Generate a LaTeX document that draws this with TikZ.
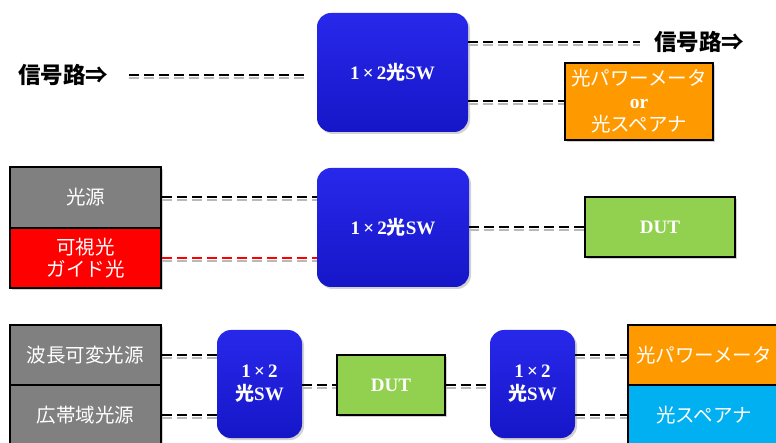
\documentclass[tikz,border=0pt]{standalone}
\usepackage{fontspec}
\setmainfont{Liberation Serif}
\newfontfamily\jp{Noto Sans CJK JP}
\usetikzlibrary{positioning,shadows,calc}
\definecolor{swtop}{RGB}{40,40,235}
\definecolor{swbot}{RGB}{22,22,200}
\definecolor{pmorange}{RGB}{255,153,0}
\definecolor{dutgreen}{RGB}{146,208,80}
\definecolor{srcgray}{RGB}{128,128,128}
\definecolor{osacyan}{RGB}{0,176,240}
\tikzstyle{sw}=[%
      rectangle, rounded corners=14pt, draw=none, top color=swtop, bottom color=swbot,
      drop shadow={shadow xshift=2pt, shadow yshift=-2pt, fill=gray!70},
      text=white, font=\bfseries\fontsize{19}{23}\selectfont, align=center, inner sep=0pt
]
\tikzstyle{box}=[%
      rectangle, draw=black, line width=1.5pt,
      drop shadow={shadow xshift=2pt, shadow yshift=-2pt, fill=gray!70},
      text=white, font=\jp\fontsize{19.5}{24}\selectfont, align=center, inner sep=0pt
]
\tikzstyle{lbl}=[%
      font=\jp\bfseries\fontsize{22.5}{26}\selectfont, inner sep=0pt
]
\tikzstyle{sig}=[%
      line width=2pt, dash pattern=on 10pt off 5pt,
      preaction={draw=gray!55, line width=2pt, dash pattern=on 10pt off 5pt, transform canvas={yshift=-3pt}}
]
\begin{document}
\begin{tikzpicture}[x=1pt, y=-1pt]
    \useasboundingbox (0,0) rectangle (776,443);
    \clip (0,0) rectangle (776,443);

    % row 1
    \node[lbl, anchor=west]  (in1)  at (18,75)      {信号路⇒};
    \node[sw, minimum width=151pt, minimum height=119pt] (sw1) at (392.5,72.5)
          {1\,×\,2{\jp 光}SW};
    \node[lbl, anchor=west]  (out1) at (654,42)     {信号路⇒};
    \node[box, fill=pmorange, minimum width=148pt, minimum height=77pt] (pm1) at (639,101.5)
          {光パワーメータ\\[-1pt]{\rmfamily\bfseries or}\\[-1pt]光スペアナ};

    \draw[sig] ([xshift=21pt]in1.east) -- ([xshift=-12pt]sw1.west |- in1.east);
    \draw[sig] (sw1.east |- out1.west) -- ([xshift=-14pt]out1.west);
    \draw[sig] (sw1.east |- pm1.west) -- (pm1.west);

    % row 2
    \node[box, fill=srcgray, minimum width=151pt, minimum height=61pt] (src) at (85.5,197.5) {光源};
    \node[box, fill=red, minimum width=151pt, minimum height=60pt] (vis) at (85.5,258)
          {可視光\\[-2pt]ガイド光};
    \node[sw, minimum width=152pt, minimum height=119pt] (sw2) at (393,227.5)
          {1\,×\,2{\jp 光}SW};
    \node[box, fill=dutgreen, minimum width=150pt, minimum height=60pt,
          font=\rmfamily\bfseries\fontsize{19}{23}\selectfont] (dut2) at (660,227) {DUT};

    \draw[sig] (src.east) -- (src.east -| sw2.west);
    \draw[sig, red] (vis.east) -- (vis.east -| sw2.west);
    \draw[sig] (sw2.east |- dut2.west) -- (dut2.west);

    % row 3
    \node[box, fill=srcgray, minimum width=151pt, minimum height=60pt] (tun) at (85.5,355) {波長可変光源};
    \node[box, fill=srcgray, minimum width=151pt, minimum height=60pt] (bb)  at (85.5,415) {広帯域光源};
    \node[sw, minimum width=85pt, minimum height=108pt] (sw3) at (259.5,384) {1\,×\,2\\{\jp 光}SW};
    \node[box, fill=dutgreen, minimum width=108pt, minimum height=60pt,
          font=\rmfamily\bfseries\fontsize{19}{23}\selectfont] (dut3) at (391,385) {DUT};
    \node[sw, minimum width=85pt, minimum height=108pt] (sw4) at (532.5,384) {1\,×\,2\\{\jp 光}SW};
    \node[box, fill=pmorange, minimum width=152pt, minimum height=60pt] (pm3)  at (704,355) {光パワーメータ};
    \node[box, fill=osacyan, minimum width=152pt, minimum height=60pt]  (osa3) at (704,415) {光スペアナ};

    \draw[sig] (tun.east) -- (tun.east -| sw3.west);
    \draw[sig] (bb.east) -- (bb.east -| sw3.west);
    \draw[sig] (sw3.east |- dut3.west) -- (dut3.west);
    \draw[sig] (dut3.east) -- (dut3.east -| sw4.west);
    \draw[sig] (sw4.east |- pm3.west) -- (pm3.west);
    \draw[sig] (sw4.east |- osa3.west) -- (osa3.west);
\end{tikzpicture}
\end{document}
